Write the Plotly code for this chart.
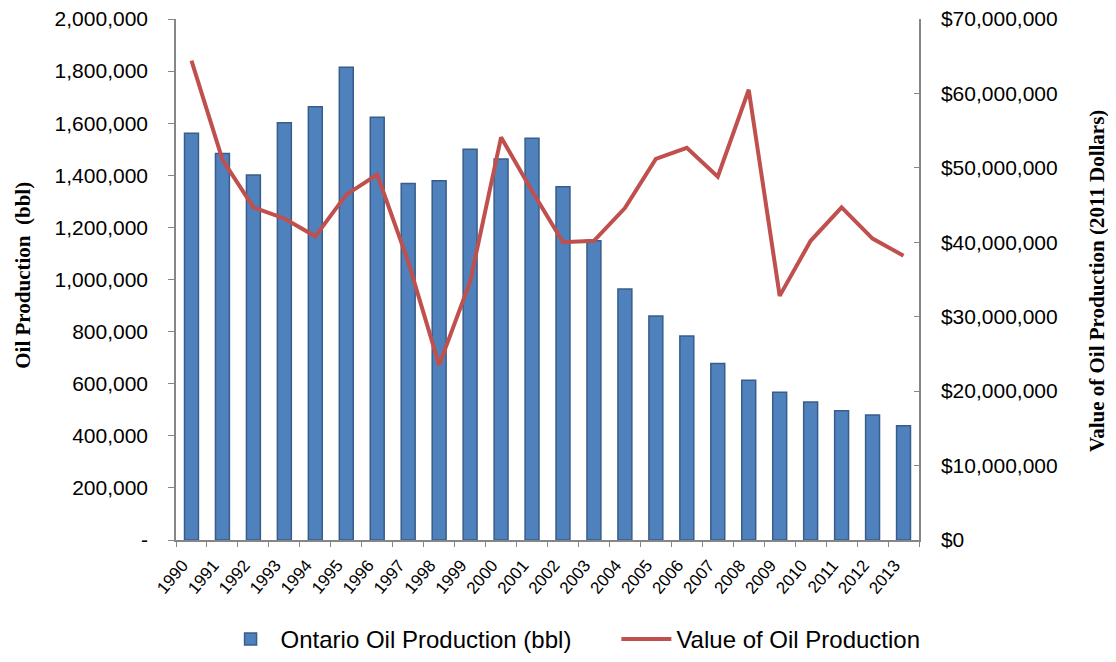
import plotly.graph_objects as go

# 数据：安大略省原油产量及产值
years = [str(y) for y in range(1990, 2014)]
oil_bbl = [1561000, 1484000, 1401000, 1602000, 1663000, 1815000, 1623000, 1369000,
           1379000, 1500000, 1463000, 1542000, 1356000, 1149000, 964000, 860000,
           783000, 678000, 613000, 567000, 530000, 496000, 480000, 439000]
value_usd = [64.4e6, 51.1e6, 44.7e6, 43.2e6, 40.8e6, 46.4e6, 49.1e6, 37.4e6,
             23.5e6, 34.7e6, 54.1e6, 46.9e6, 40.0e6, 40.2e6, 44.6e6, 51.2e6,
             52.7e6, 48.8e6, 60.5e6, 32.8e6, 40.2e6, 44.7e6, 40.5e6, 38.2e6]

left_ticks = list(range(0, 2000001, 200000))
left_text = ["-"] + ["{:,}".format(v) for v in left_ticks[1:]]
right_ticks = list(range(0, 70000001, 10000000))
right_text = ["${:,}".format(v) for v in right_ticks]

axis_grey = "#868686"
sans = "Liberation Sans, Arial, sans-serif"
serif = "Liberation Serif, Times New Roman, serif"

fig = go.Figure()

fig.add_trace(go.Bar(
    x=years, y=oil_bbl,
    name="Ontario Oil Production (bbl)" + "\u00a0" * 6,
    marker=dict(color="#4F81BD", line=dict(color="#385D8A", width=1.5)),
))

fig.add_trace(go.Scatter(
    x=years, y=value_usd,
    name="Value of Oil Production",
    mode="lines",
    line=dict(color="#C0504D", width=4),
    yaxis="y2",
))

# 页面 body 有 8px 边距，画布尺寸相应缩小
fig.update_layout(
    width=1108, height=654,
    autosize=False,
    margin=dict(l=168, r=197, t=11, b=122, autoexpand=False),
    paper_bgcolor="white",
    plot_bgcolor="white",
    bargap=0.55,
    font=dict(family=sans, color="black"),
    showlegend=True,
    legend=dict(
        orientation="h",
        xref="container", yref="container",
        x=0.51, xanchor="center",
        y=-0.012, yanchor="bottom",
        font=dict(family=sans, size=24, color="black"),
        itemwidth=50,
        tracegroupgap=0,
    ),
    xaxis=dict(
        type="category",
        automargin=False,
        showline=True, linecolor=axis_grey, linewidth=1.5,
        ticks="outside", ticklen=5, tickcolor=axis_grey,
        tickson="boundaries",
        tickangle=-50,
        ticklabelshift=-9,
        ticklabelstandoff=7,
        tickfont=dict(family=sans, size=17, color="black"),
        showgrid=False, zeroline=False,
    ),
    yaxis=dict(
        range=[0, 2000000],
        automargin=False,
        tickvals=left_ticks, ticktext=left_text,
        showline=True, linecolor=axis_grey, linewidth=1.5,
        ticks="outside", ticklen=6, tickcolor=axis_grey,
        ticklabelstandoff=16,
        ticklabeloverflow="allow",
        tickfont=dict(family=sans, size=21, color="black"),
        showgrid=False, zeroline=False,
    ),
    yaxis2=dict(
        range=[0, 70000000],
        automargin=False,
        overlaying="y", side="right",
        tickvals=right_ticks, ticktext=right_text,
        showline=True, linecolor=axis_grey, linewidth=1.5,
        ticks="inside", ticklen=5, tickcolor=axis_grey,
        ticklabelstandoff=16,
        ticklabeloverflow="allow",
        tickfont=dict(family=sans, size=21, color="black"),
        showgrid=False, zeroline=False,
    ),
)

# 坐标轴标题（手动放置）
fig.add_annotation(
    text="<b>Oil Production  (bbl)</b>",
    xref="paper", yref="paper", x=-0.206, y=0.509,
    xanchor="center", yanchor="middle", textangle=-90, showarrow=False,
    font=dict(family=serif, size=21, color="black"),
)
fig.add_annotation(
    text="<b>Value of Oil Production (2011 Dollars)</b>",
    xref="paper", yref="paper", x=1.2396, y=0.497,
    xanchor="center", yanchor="middle", textangle=-90, showarrow=False,
    font=dict(family=serif, size=21, color="black"),
)

fig.write_html("out.html")
